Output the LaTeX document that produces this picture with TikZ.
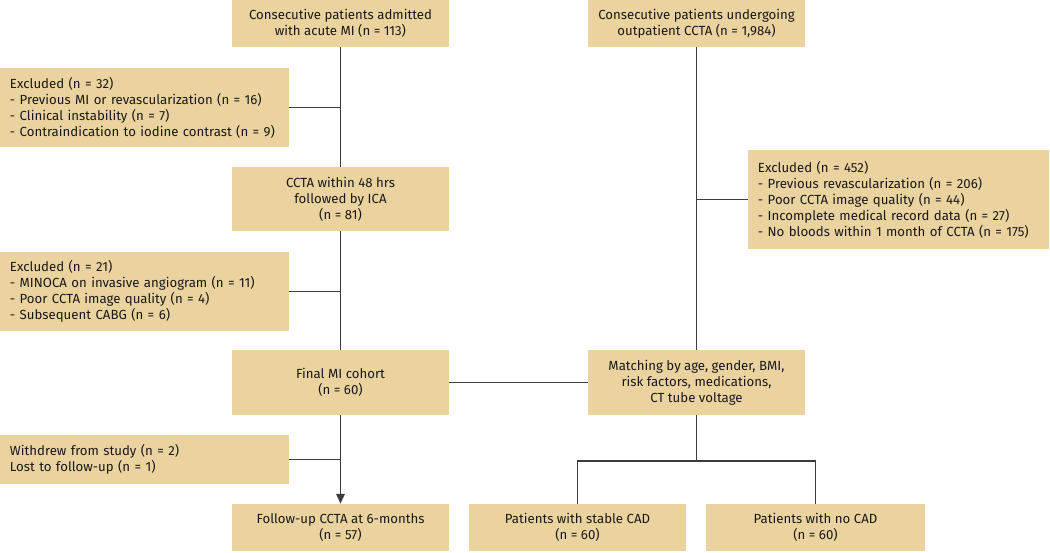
\documentclass[tikz,border=0pt]{standalone}
\usepackage{fontspec}
\setmainfont{Fira Sans}
\usetikzlibrary{arrows.meta}
\definecolor{boxfill}{RGB}{235,211,160}
\definecolor{linegray}{RGB}{60,60,60}
\tikzset{
    box/.style={fill=boxfill, inner sep=0pt, align=center, text=black!90,
        font=\fontsize{9.4}{11.4}\selectfont},
    mainbox/.style={box, minimum width=5.425cm, minimum height=1.175cm},
    tallbox/.style={mainbox, minimum height=1.6cm},
    exbox/.style={box, align=left, inner xsep=0.25cm, text width=6.725cm,
        minimum height=1.975cm},
    link/.style={draw=linegray, line width=1.1pt}
}

\begin{document}
\begin{tikzpicture}[x=0.025cm, y=-0.025cm]
    \useasboundingbox (0,0) rectangle (1050,552);

    % left column: MI patients
    \path (340.5,23.5) node[mainbox] (admit) {Consecutive patients admitted\\with acute MI (n = 113)};
    \path (144.5,107.5) node[exbox] (ex32) {Excluded (n = 32)\\- Previous MI or revascularization (n = 16)\\- Clinical instability (n = 7)\\- Contraindication to iodine contrast (n = 9)};
    \path (340.5,199) node[tallbox] (ccta) {CCTA within 48 hrs\\followed by ICA\\(n = 81)};
    \path (144.5,291.5) node[exbox] (ex21) {Excluded (n = 21)\\- MINOCA on invasive angiogram (n = 11)\\- Poor CCTA image quality (n = 4)\\- Subsequent CABG (n = 6)};
    \path (340.5,382.5) node[tallbox] (final) {Final MI cohort\\(n = 60)};
    \path (144.5,459.5) node[exbox, minimum height=1.225cm] (lost) {Withdrew from study (n = 2)\\Lost to follow-up (n = 1)};
    \path (340.5,527.5) node[mainbox] (follow) {Follow-up CCTA at 6-months\\(n = 57)};

    % right column: outpatient CCTA
    \path (696.5,23.5) node[mainbox] (outpt) {Consecutive patients undergoing\\outpatient CCTA (n = 1,984)};
    \path (898.5,199.5) node[exbox, text width=7.025cm, minimum height=2.475cm] (ex452) {Excluded (n = 452)\\- Previous revascularization (n = 206)\\- Poor CCTA image quality (n = 44)\\- Incomplete medical record data (n = 27)\\- No bloods within 1 month of CCTA (n = 175)};
    \path (696.5,382.5) node[tallbox] (match) {Matching by age, gender, BMI,\\risk factors, medications,\\CT tube voltage};
    \path (577.5,527.5) node[mainbox] (stable) {Patients with stable CAD\\(n = 60)};
    \path (815.5,527.5) node[mainbox, minimum width=5.45cm] (nocad) {Patients with no CAD\\(n = 60)};

    % connectors
    \draw[link] (admit.south) -- (ccta.north);
    \draw[link] (ccta.south) -- (final.north);
    \draw[link, -{Triangle[length=7pt, width=6pt]}] (final.south) -- (follow.north);
    \draw[link] (ex32.east) -- (ex32.east -| admit.south);
    \draw[link] (ex21.east) -- (ex21.east -| admit.south);
    \draw[link] (lost.east) -- (lost.east -| admit.south);
    \draw[link] (outpt.south) -- (match.north);
    \draw[link] (ex452.west) -- (ex452.west -| outpt.south);
    \draw[link] (final.east) -- (match.west);
    \draw[link] (match.south) -- ++(0,46) coordinate (split);
    \draw[link] (stable.north) |- (split) -| (nocad.north);
\end{tikzpicture}
\end{document}
